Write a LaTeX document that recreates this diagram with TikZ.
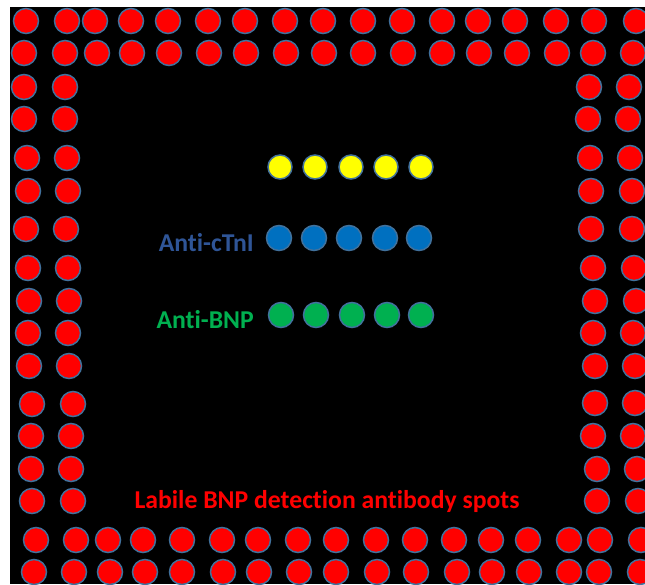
\documentclass[tikz,border=0pt]{standalone}
\usepackage{fontspec}
\setmainfont{Carlito}[Ligatures=NoCommon]
\definecolor{spotline}{HTML}{41719C}
\definecolor{spotred}{HTML}{FF0000}
\definecolor{spotyellow}{HTML}{FFFF00}
\definecolor{spotblue}{HTML}{0070C0}
\definecolor{spotgreen}{HTML}{00B050}
\definecolor{labelblue}{HTML}{2F5597}
\begin{document}
\begin{tikzpicture}[x=1pt,y=-1pt,
  spot/.style={circle, draw=spotline, line width=1.5pt, minimum size=25pt, inner sep=0pt},
  redspot/.style={spot, fill=spotred},
  yellowspot/.style={spot, fill=spotyellow, minimum size=24pt},
  bluespot/.style={spot, fill=spotblue},
  greenspot/.style={spot, fill=spotgreen},
  lbl/.style={font=\fontsize{25.7}{30}\selectfont\bfseries, inner sep=0pt}]
\useasboundingbox (0,0) rectangle (645,584);
\fill[white] (0,0) rectangle (645,584);
\fill[black] (10,7) rectangle (645,584);
% top rows
\foreach \x [count=\i] in {26,67,95,131,168,208,245,285,323,363,402,442,478,515,556,594,636}
  \node[redspot] (ta\i) at (\x,21) {};
\foreach \x [count=\i] in {24,65,97,132,169,209,246,286,324,363,403,442,479,517,557,593,633}
  \node[redspot] (tb\i) at (\x,53) {};
% left columns
\foreach \a/\b/\y [count=\i] in {24/65/87,24/65/119,27/67/158,28/68/191,26/66/229,28/68/268,29/69/301,28/68/333,29/69/366,32/73/404,31/71/436,31/71/469,32/73/501}
  {\node[redspot] (la\i) at (\a,\y) {}; \node[redspot] (lb\i) at (\b,\y) {};}
% right columns
\foreach \a/\b/\y [count=\i] in {589/629/87,588/628/119,590/630/158,591/632/191,591/632/229,593/634/268,595/636/301,593/633/333,595/635/366,595/635/403,593/633/436,597/637/469,597/638/501}
  {\node[redspot] (ra\i) at (\a,\y) {}; \node[redspot] (rb\i) at (\b,\y) {};}
% bottom rows
\foreach \x [count=\i] in {36,76,108,143,182,222,258,298,336,376,415,454,491,528,569,600,641}
  \node[redspot] (ba\i) at (\x,540) {};
\foreach \x [count=\i] in {34,74,110,145,182,223,259,299,336,377,416,457,492,529,569,599,640}
  \node[redspot] (bb\i) at (\x,572) {};
% centre rows
\foreach \x [count=\i] in {280,315,351,386,421}
  \node[yellowspot] (y\i) at (\x,167) {};
\foreach \x [count=\i] in {279,314,349,385,419}
  \node[bluespot] (c\i) at (\x,238) {};
\foreach \x [count=\i] in {281,316,352,387,421}
  \node[greenspot] (g\i) at (\x,315) {};
% labels
\node[lbl, text=labelblue, anchor=base east] (ctni) at (254,251) {Anti-cTnI};
\node[lbl, text=spotgreen, anchor=base east] (bnp) at (254,328) {Anti-BNP};
\node[lbl, text=spotred, anchor=base] (labile) at (327,508) {Labile BNP detection antibody spots};
\end{tikzpicture}
\end{document}
